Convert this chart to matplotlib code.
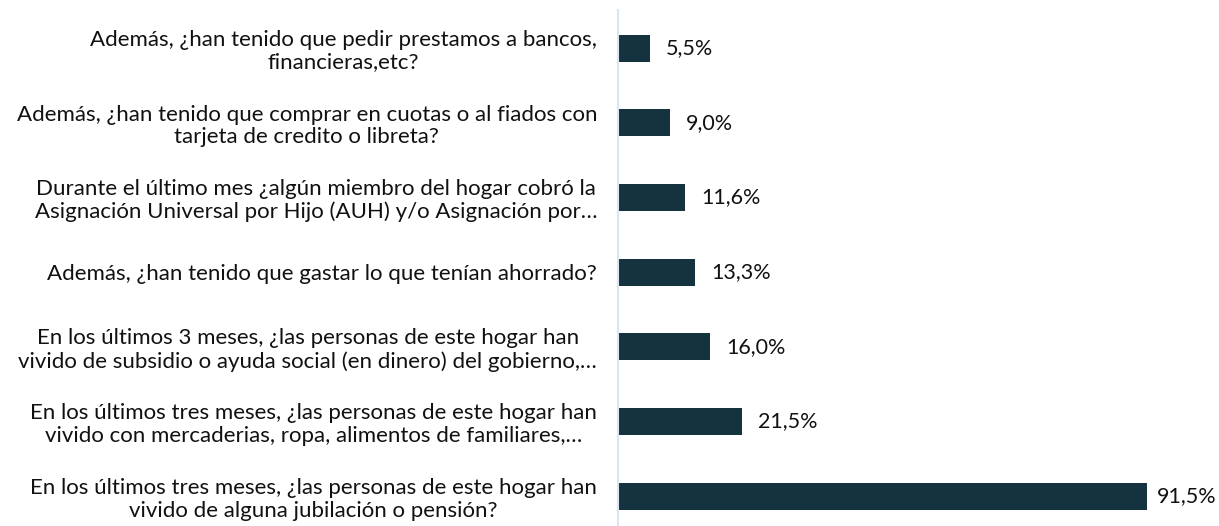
import matplotlib.pyplot as plt

categorias = [
    "Además, ¿han tenido que pedir prestamos a bancos,\nfinancieras,etc?",
    "Además, ¿han tenido que comprar en cuotas o al fiados con\ntarjeta de credito o libreta?",
    "Durante el último mes ¿algún miembro del hogar cobró la\nAsignación Universal por Hijo (AUH) y/o Asignación por…",
    "Además, ¿han tenido que gastar lo que tenían ahorrado?",
    "En los últimos 3 meses, ¿las personas de este hogar han\nvivido de subsidio o ayuda social (en dinero) del gobierno,…",
    "En los últimos tres meses, ¿las personas de este hogar han\nvivido con mercaderias, ropa, alimentos de familiares,…",
    "En los últimos tres meses, ¿las personas de este hogar han\nvivido de alguna jubilación o pensión?",
]
valores = [5.5, 9.0, 11.6, 13.3, 16.0, 21.5, 91.5]
etiquetas = ["5,5%", "9,0%", "11,6%", "13,3%", "16,0%", "21,5%", "91,5%"]

plt.rcParams['font.family'] = ['Lato', 'DejaVu Sans']

fig = plt.figure(figsize=(12.19, 5.26), dpi=100)
ax = fig.add_axes([618 / 1219, 0, 578 / 1219, 516 / 526])

pos = list(range(len(valores)))
ax.barh(pos, valores, height=0.36, color="#15333F")

for p, v, t in zip(pos, valores, etiquetas):
    # la última etiqueta se acerca a la barra para que entre en la figura
    x = min(v + 2.8, 93.2)
    ax.text(x, p, t, va="center", ha="left", fontsize=15.5, color="#111111")

ax.set_xlim(0, 100)
ax.set_ylim(6.4, -0.51)
ax.set_yticks(pos)
ax.set_yticklabels(categorias, fontsize=16, multialignment="center",
                   color="#111111", linespacing=1.15)
ax.tick_params(axis="y", length=0, pad=15)
ax.set_xticks([])

for s in ["top", "right", "bottom"]:
    ax.spines[s].set_visible(False)
ax.spines["left"].set_color("#D6E6F2")
ax.spines["left"].set_linewidth(1.5)

fig.savefig("out.png", dpi=100)
